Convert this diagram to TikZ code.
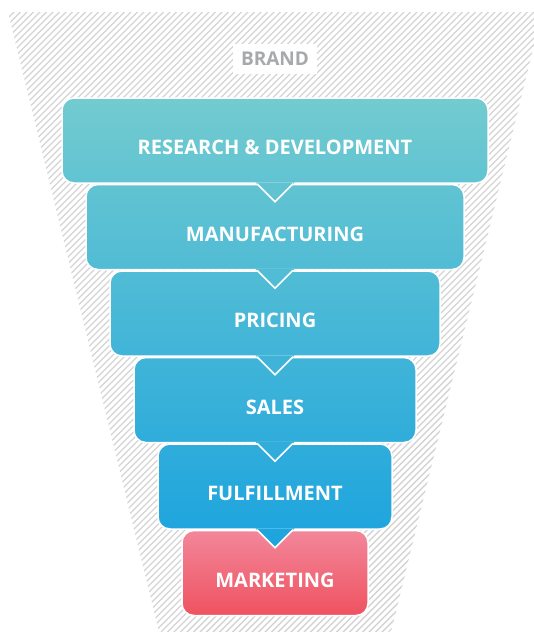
\documentclass[tikz,border=0pt]{standalone}
\usepackage{fontspec}
\setsansfont{Open Sans}
\usetikzlibrary{calc}
\definecolor{teal0}{RGB}{114,203,207}
\definecolor{blue5}{RGB}{31,165,222}
\definecolor{pinktop}{RGB}{242,135,154}
\definecolor{pinkbot}{RGB}{239,82,96}
\definecolor{hatchgray}{RGB}{212,212,212}
\definecolor{brandgray}{RGB}{167,169,172}

\begin{document}
\begin{tikzpicture}[
        x=1pt, y=-1pt,
        stage/.style={
            rounded corners=12pt,
            draw=white,
            line width=1.5pt,
            minimum height=85pt,
            text height=28pt,
            text depth=0pt,
            text=white,
            font=\sffamily\bfseries\fontsize{20}{24}\selectfont,
        },
        hatch/.style={
            draw=hatchgray,
            line width=1.4pt,
        },
        tip/.style={
            draw=white,
            line width=1.5pt,
        },
    ]
    \useasboundingbox (0,0) rectangle (534,632);

    % hatched funnel
    \begin{scope}
        \clip[rounded corners=3pt] (8,12) -- (542,12) -- (391,632) -- (159,632) -- cycle;
        \foreach \i in {-640,-633.5,...,560}
            \draw[hatch] (\i,640) -- ++(640,-640);
    \end{scope}

    \node[fill=white, text=brandgray, minimum width=84pt, minimum height=30pt,
        font=\sffamily\bfseries\fontsize{19}{22}\selectfont] (brand) at (275,58.5) {BRAND};

    \node[stage, minimum width=426pt, top color=teal0, bottom color=blue5!20!teal0] (rd) at (275,140.5) {RESEARCH \& DEVELOPMENT};
    \node[stage, minimum width=378pt, top color=blue5!20!teal0, bottom color=blue5!40!teal0] (mf) at (275,227) {MANUFACTURING};
    \node[stage, minimum width=330pt, top color=blue5!40!teal0, bottom color=blue5!60!teal0] (pr) at (275,313.5) {PRICING};
    \node[stage, minimum width=282pt, top color=blue5!60!teal0, bottom color=blue5!80!teal0] (sl) at (275,400) {SALES};
    \node[stage, minimum width=234pt, top color=blue5!80!teal0, bottom color=blue5] (ff) at (275,486.5) {FULFILLMENT};
    \node[stage, minimum width=186pt, top color=pinktop, bottom color=pinkbot] (mk) at (275,573) {MARKETING};

    % pointers between stages
    \foreach \a/\c in {rd/blue5!20!teal0, mf/blue5!40!teal0, pr/blue5!60!teal0, sl/blue5!80!teal0, ff/blue5} {
        \fill[\c] ($(\a.south)+(-19.5,-1.5)$) -- ($(\a.south)+(0,18)$) -- ($(\a.south)+(19.5,-1.5)$) -- cycle;
        \draw[tip] ($(\a.south)+(-18,0)$) -- ($(\a.south)+(0,18)$) -- ($(\a.south)+(18,0)$);
    }
\end{tikzpicture}
\end{document}
